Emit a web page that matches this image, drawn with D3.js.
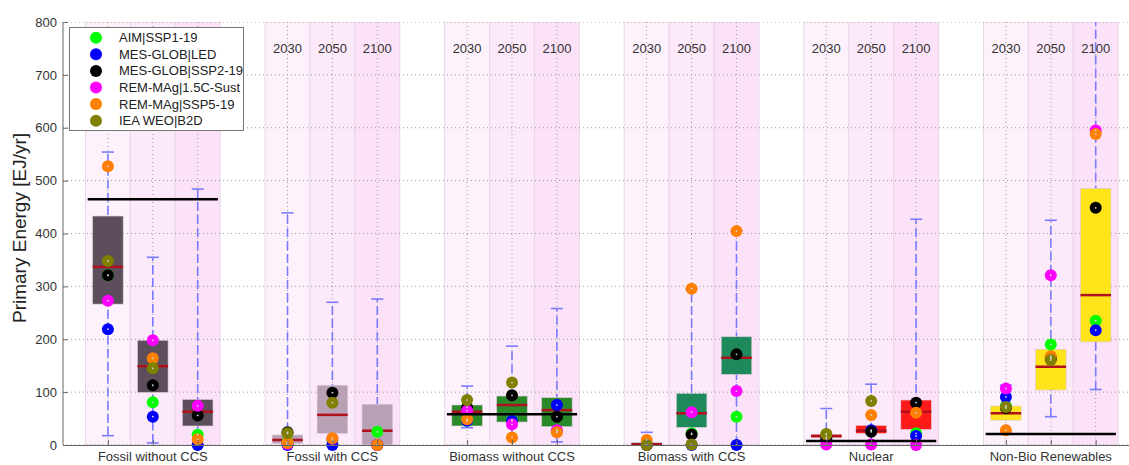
<!DOCTYPE html>
<html>
<head>
<meta charset="utf-8">
<script src="https://cdn.jsdelivr.net/npm/d3@7"></script>
<style>
body { margin: 0; background: white; }
text { font-family: Arial, "Liberation Sans", sans-serif; }
</style>
</head>
<body>
<div id="chart_container"></div>
<script>
// Data
var categories = ["Fossil without CCS", "Fossil with CCS", "Biomass without CCS", "Biomass with CCS", "Nuclear", "Non-Bio Renewables"]
var years = ["2030", "2050", "2100"]

// box stats per category, per year: [q1, q3, median]
var box_low = [[266.5, 99.6, 36], [3, 22, 0], [36, 43.5, 34.7], [0, 33.4, 133.6], [14, 22, 29.6], [47, 104, 195]]
var box_high = [[433, 198, 86], [19, 113, 77], [75.6, 92.6, 89.5], [4.4, 97.7, 204.7], [20, 37, 85], [73.7, 181, 485]]
var medians = [[337, 149, 63], [9.5, 57, 27], [63, 75.6, 66], [1.3, 60, 165], [17, 27, 63], [60, 148, 283.5]]
var whisker_low = [[17.6, 4, 0], [0, 0, 0], [32.7, 12.6, 6], [0, 0, 0], [0, 0, 0], [22, 53.6, 105]]
var whisker_high = [[554, 355, 484], [439, 270, 276], [111.5, 187, 258], [24, 295.5, 404.5], [69, 115, 427], [113, 425, 850]]

// reference lines (current level)
var ref_values = [465, null, 58, null, 7.6, 21]

// illustrative pathways
var models = ["AIM|SSP1-19", "MES-GLOB|LED", "MES-GLOB|SSP2-19", "REM-MAg|1.5C-Sust", "REM-MAg|SSP5-19", "IEA WEO|B2D"]
var model_colors = ["#00ff00", "#0000ff", "#000000", "#ff00ff", "#ff8000", "#808000"]
var aim_ssp1 = [[321, 80.7, 19.5], [5, 8, 25], [46, 48, 26], [0, 22, 53.6], [12, 27, 22], [74, 190, 235]]
var mes_led = [[219, 53.6, 0], [0, 0, 0], [46, 46, 75.6], [0, 0, 0], [10, 28, 17], [91, 165, 217]]
var mes_ssp2 = [[321, 113, 56], [24, 99, 0], [71, 94, 53.6], [0, 20, 171.4], [15, 25, 80], [70, 163, 448.6]]
var rem_sust = [[273, 198, 74], [2, 12, 0], [65, 39, 28], [0, 62, 102], [1, 1, 0], [107, 321, 595]]
var rem_ssp5 = [[527, 164, 11], [4, 12.6, 0], [48.6, 14, 24], [9.5, 295.5, 404.5], [20, 56.7, 61], [28, 168, 588]]
var iea_b2d = [[348, 145, null], [22, 80, null], [85, 118, null], [0, 1, null], [21, 83, null], [72, 160.7, null]]
var model_values = [aim_ssp1, mes_led, mes_ssp2, rem_sust, rem_ssp5, iea_b2d]

var box_colors = ["#5c4e5a", "#b8a0b5", "#2a8a2a", "#1e8a5c", "#ff1a1a", "#ffe41a"]
var shade_colors = ["#fdf2fc", "#fce9f9", "#fbe2f8"]
var y_ticks = d3.range(0, 801, 100)

// Chart dimensions
var width = 1129
var height = 465
var margin = {top: 22, left: 63, bottom: 20}

// Scales: each category takes 4 slots, years at slot 1..3
var x_scale = d3.scaleLinear()
    .domain([0, 24])
    .range([margin.left, margin.left + 24 * 44.9])

var y_scale = d3.scaleLinear()
    .domain([0, 800])
    .range([height - margin.bottom, margin.top])

function pos(g, j) { return g * 4 + j + 1 }

var cells = []
categories.forEach(function(c, g) {
    years.forEach(function(yr, j) {
        cells.push({g: g, j: j, p: pos(g, j)})
    })
})

var svg = d3.select("#chart_container")
    .append("svg")
    .attr("width", width)
    .attr("height", height)

svg.append("defs").append("clipPath")
    .attr("id", "plot_clip")
    .append("rect")
    .attr("x", margin.left)
    .attr("y", margin.top)
    .attr("width", width - margin.left)
    .attr("height", y_scale(0) - margin.top)

var plot = svg.append("g").attr("clip-path", "url(#plot_clip)")

// Background shading of each year column
plot.selectAll(".shade")
    .data(cells)
    .enter()
    .append("rect")
    .attr("x", function(d) { return x_scale(d.p - 0.5) })
    .attr("y", y_scale(800))
    .attr("width", x_scale(1) - x_scale(0))
    .attr("height", y_scale(0) - y_scale(800))
    .attr("fill", function(d) { return shade_colors[d.j] })
    .attr("stroke", "#e8d6e6")
    .attr("stroke-width", 1)

// Grid
plot.selectAll(".hgrid")
    .data(y_ticks)
    .enter()
    .append("line")
    .attr("x1", margin.left)
    .attr("x2", width)
    .attr("y1", function(d) { return y_scale(d) })
    .attr("y2", function(d) { return y_scale(d) })
    .attr("stroke", "#9a9a9a")
    .attr("stroke-dasharray", "1,3")

plot.selectAll(".vgrid")
    .data(cells)
    .enter()
    .append("line")
    .attr("x1", function(d) { return x_scale(d.p) })
    .attr("x2", function(d) { return x_scale(d.p) })
    .attr("y1", y_scale(800))
    .attr("y2", y_scale(0))
    .attr("stroke", "#9a9a9a")
    .attr("stroke-dasharray", "1,3")

// Year labels (the first group's labels sit under the legend)
svg.selectAll(".year")
    .data(cells.filter(function(d) { return d.g > 0 }))
    .enter()
    .append("text")
    .attr("x", function(d) { return x_scale(d.p) })
    .attr("y", 53)
    .attr("text-anchor", "middle")
    .style("font-size", "13px")
    .attr("fill", "#333")
    .text(function(d) { return years[d.j] })

// Whiskers
var cap = 6
plot.selectAll(".whisker")
    .data(cells)
    .enter()
    .append("line")
    .attr("x1", function(d) { return x_scale(d.p) })
    .attr("x2", function(d) { return x_scale(d.p) })
    .attr("y1", function(d) { return y_scale(whisker_low[d.g][d.j]) })
    .attr("y2", function(d) { return y_scale(whisker_high[d.g][d.j]) })
    .attr("stroke", "#7b7bff")
    .attr("stroke-width", 1.6)
    .attr("stroke-dasharray", "9,4")

var caps = []
cells.forEach(function(d) {
    caps.push({p: d.p, v: whisker_low[d.g][d.j]})
    caps.push({p: d.p, v: whisker_high[d.g][d.j]})
})
plot.selectAll(".cap")
    .data(caps)
    .enter()
    .append("line")
    .attr("x1", function(d) { return x_scale(d.p) - cap })
    .attr("x2", function(d) { return x_scale(d.p) + cap })
    .attr("y1", function(d) { return y_scale(d.v) })
    .attr("y2", function(d) { return y_scale(d.v) })
    .attr("stroke", "#7b7bff")
    .attr("stroke-width", 1.6)

// Boxes
var box_w = (x_scale(1) - x_scale(0)) * 0.68
plot.selectAll(".box")
    .data(cells)
    .enter()
    .append("rect")
    .attr("x", function(d) { return x_scale(d.p) - box_w / 2 })
    .attr("y", function(d) { return y_scale(box_high[d.g][d.j]) })
    .attr("width", box_w)
    .attr("height", function(d) { return y_scale(box_low[d.g][d.j]) - y_scale(box_high[d.g][d.j]) })
    .attr("fill", function(d) { return box_colors[d.g] })
    .attr("stroke", "#d9c8d6")
    .attr("stroke-width", 0.6)

plot.selectAll(".median")
    .data(cells)
    .enter()
    .append("line")
    .attr("x1", function(d) { return x_scale(d.p) - box_w / 2 })
    .attr("x2", function(d) { return x_scale(d.p) + box_w / 2 })
    .attr("y1", function(d) { return y_scale(medians[d.g][d.j]) })
    .attr("y2", function(d) { return y_scale(medians[d.g][d.j]) })
    .attr("stroke", "#b0101e")
    .attr("stroke-width", 2.5)

// Markers of the illustrative pathways
var points = []
models.forEach(function(m, k) {
    cells.forEach(function(d) {
        var v = model_values[k][d.g][d.j]
        if (v !== null) points.push({p: d.p, v: v, k: k})
    })
})
var dots = svg.append("g")
dots.selectAll(".marker")
    .data(points)
    .enter()
    .append("circle")
    .attr("cx", function(d) { return x_scale(d.p) })
    .attr("cy", function(d) { return y_scale(d.v) })
    .attr("r", 6)
    .attr("fill", function(d) { return model_colors[d.k] })
dots.selectAll(".center")
    .data(points)
    .enter()
    .append("circle")
    .attr("cx", function(d) { return x_scale(d.p) })
    .attr("cy", function(d) { return y_scale(d.v) })
    .attr("r", 0.9)
    .attr("fill", "#d0d0d0")

// Reference lines
var refs = []
ref_values.forEach(function(v, g) { if (v !== null) refs.push({g: g, v: v}) })
svg.selectAll(".ref")
    .data(refs)
    .enter()
    .append("line")
    .attr("x1", function(d) { return x_scale(d.g * 4 + 0.55) })
    .attr("x2", function(d) { return x_scale(d.g * 4 + 3.45) })
    .attr("y1", function(d) { return y_scale(d.v) })
    .attr("y2", function(d) { return y_scale(d.v) })
    .attr("stroke", "black")
    .attr("stroke-width", 2.5)

// Axes
var y_axis = d3.axisLeft(y_scale).tickValues(y_ticks).tickSize(-5).tickPadding(6)
var x_axis = d3.axisBottom(x_scale)
    .tickValues(cells.map(function(d) { return d.p }))
    .tickFormat("")
    .tickSize(-5)
    .tickSizeOuter(0)

var ya = svg.append("g")
    .attr("transform", "translate(" + margin.left + ",0)")
    .call(y_axis)
ya.selectAll("text").style("font-size", "13px").attr("fill", "#333")
ya.selectAll("line, path").attr("stroke", "#666")
ya.select(".domain").attr("d", "M0," + y_scale(800) + "V" + y_scale(0))

var xa = svg.append("g")
    .attr("transform", "translate(0," + y_scale(0) + ")")
    .call(x_axis)
xa.selectAll("line, path").attr("stroke", "#666")

// Category labels
svg.selectAll(".cat")
    .data(categories)
    .enter()
    .append("text")
    .attr("x", function(d, g) { return x_scale(g * 4 + 2) })
    .attr("y", 461)
    .attr("text-anchor", "middle")
    .style("font-size", "13px")
    .attr("fill", "#333")
    .text(function(d) { return d })

// Y label
svg.append("text")
    .attr("transform", "translate(26," + 228 + ") rotate(-90)")
    .attr("text-anchor", "middle")
    .style("font-size", "19px")
    .attr("fill", "#222")
    .text("Primary Energy [EJ/yr]")

// Legend
var legend = svg.append("g")
legend.append("rect")
    .attr("x", 69.5)
    .attr("y", 27.5)
    .attr("width", 174)
    .attr("height", 103)
    .attr("fill", "white")
    .attr("stroke", "#777")
var items = legend.selectAll(".item")
    .data(models)
    .enter()
    .append("g")
    .attr("transform", function(d, i) { return "translate(96," + (37.7 + i * 16.6) + ")" })
items.append("circle")
    .attr("r", 6)
    .attr("fill", function(d, i) { return model_colors[i] })
items.append("text")
    .attr("x", 23)
    .attr("dy", "0.35em")
    .style("font-size", "13px")
    .attr("fill", "#222")
    .text(function(d) { return d })
</script>
</body>
</html>
